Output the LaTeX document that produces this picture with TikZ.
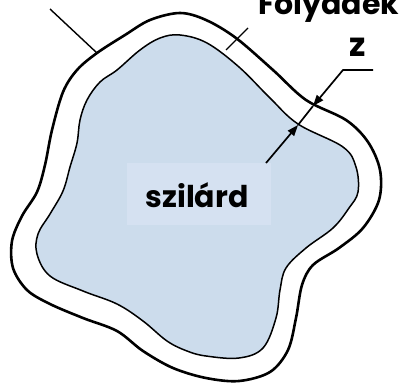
\documentclass[tikz,border=0pt]{standalone}
\usepackage{fontspec}
\newfontfamily\labfont{Poppins}
\usetikzlibrary{arrows.meta}
\definecolor{solidfill}{RGB}{204,220,236}
\definecolor{boxfill}{RGB}{213,225,241}
\begin{document}
\begin{tikzpicture}[x=1pt,y=-1pt,
  outerline/.style={line width=2.6pt, black},
  innerline/.style={line width=1.5pt, black},
  thinline/.style={line width=1.4pt, black},
  dimline/.style={line width=1.7pt, black},
  dimarrow/.style={line width=1.7pt, black, -{Triangle[length=11pt,width=8pt]}},
  lbl/.style={font=\labfont\bfseries\fontsize{30}{36}\selectfont, inner sep=0pt},
  zlbl/.style={font=\labfont\bfseries\fontsize{33}{38}\selectfont, inner sep=0pt}]
\useasboundingbox (0,0) rectangle (412,383);
% outer boundary (liquid layer)
\draw[outerline] plot[smooth cycle, tension=0.55] coordinates {
 (150,20) (180,13) (206,20) (236,38) (273,70) (306,100) (346,120) (368,142)
 (380,170) (379,200) (363,228) (339,248) (313,265) (302,285) (296,318) (288,350)
 (270,372) (239,381) (206,378) (173,368) (143,351) (117,331) (83,318) (50,304)
 (27,290) (13,268) (12,241) (22,216) (37,192) (45,165) (52,130) (63,92)
 (77,70) (97,53) (125,35)};
% inner boundary (solid)
\draw[innerline, fill=solidfill] plot[smooth cycle, tension=0.6] coordinates {
 (160,38) (180,35) (207,43) (239,67) (270,98) (298,124) (343,147)
 (356,167) (358,192) (349,208) (333,228) (306,248) (286,268) (280,290) (276,318)
 (263,348) (239,358) (206,356) (187,351) (167,341) (143,321) (117,304) (83,291)
 (50,276) (37,254) (38,234) (50,214) (63,191) (70,167) (77,143) (80,120)
 (87,100) (100,82) (117,70) (140,50)};
% label box
\node[fill=boxfill, inner sep=0pt, minimum width=144pt, minimum height=62pt] (box) at (199,194) {};
\node[lbl, anchor=base] (szilard) at (197,207) {szilárd};
\node[lbl, anchor=base west] (folyadek) at (258,14) {Folyadék};
% leader lines
\coordinate (lA) at (50,9);
\coordinate (lB) at (97,53);
\draw[thinline] (lA) -- (lB);
\coordinate (tA) at (226,50);
\coordinate (tB) at (248,28);
\draw[thinline] (tA) -- (tB);
% dimension z
\coordinate (dLow) at (266,163);
\coordinate (dIn) at (298,125);
\coordinate (dOut) at (313,106);
\coordinate (dCorner) at (343,70);
\coordinate (dEnd) at (373,70);
\draw[dimarrow] (dLow) -- (dIn);
\draw[dimline] (dIn) -- (dOut);
\draw[dimarrow] (dEnd) -- (dCorner) -- (dOut);
\node[zlbl, anchor=base] (zlab) at (358,56) {z};
\end{tikzpicture}
\end{document}
